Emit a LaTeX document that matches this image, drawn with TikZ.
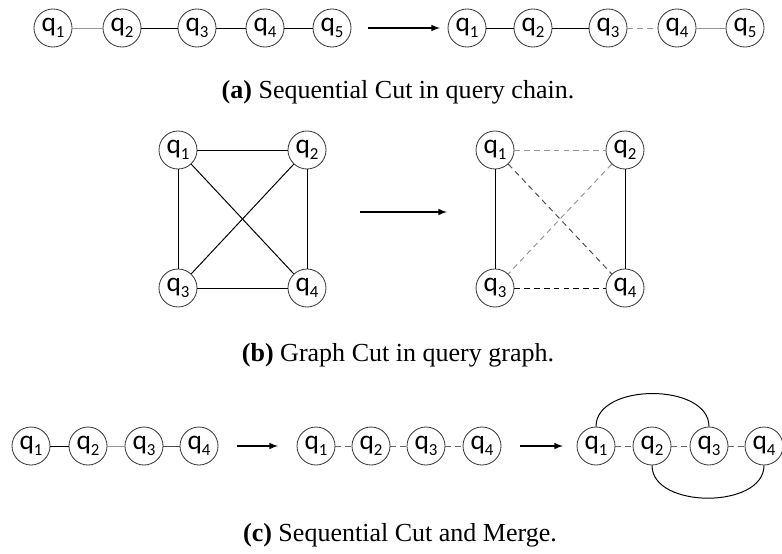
\documentclass[tikz,border=0pt]{standalone}
\usepackage{fontspec}
\usepackage{xcolor}
\setmainfont{Liberation Serif}
\newfontfamily\qfont{Carlito}
\definecolor{edgegray}{RGB}{150,150,150}
\definecolor{ringgray}{RGB}{60,60,60}
\newcommand{\qn}[1]{{\qfont\fontsize{19.5}{19.5}\selectfont q\raisebox{-3.8pt}{\fontsize{12}{12}\selectfont #1}}}
\tikzset{
  qnode/.style={ellipse, draw=ringgray, line width=0.6pt, fill=white, minimum width=0.95cm, minimum height=0.95cm, inner sep=0pt},
  hard/.style={line width=0.7pt, black},
  soft/.style={line width=0.7pt, edgegray},
  cut/.style={line width=0.7pt, edgegray, dash pattern=on 4pt off 3pt},
  stage/.style={-latex, line width=1.1pt},
  caption/.style={font=\fontsize{18.5}{18.5}\selectfont}
}
\usetikzlibrary{shapes.geometric}
\begin{document}
\begin{tikzpicture}[x=0.025cm, y=-0.025cm]
  \useasboundingbox (0,0) rectangle (782,553);

  % (a) query chain, before and after
  \foreach \n/\x in {1/53, 2/122, 3/197, 4/265, 5/332}
    \node[qnode] (aL\n) at (\x,28) {\qn{\n}};
  \foreach \n/\x in {1/467, 2/533, 3/608, 4/677, 5/745}
    \node[qnode] (aR\n) at (\x,28) {\qn{\n}};
  \draw[soft] (aL1) -- (aL2);
  \draw[hard] (aL2) -- (aL3);
  \draw[hard] (aL3) -- (aL4);
  \draw[hard] (aL4) -- (aL5);
  \draw[hard] (aR1) -- (aR2);
  \draw[hard] (aR2) -- (aR3);
  \draw[cut] (aR3) -- (aR4);
  \draw[soft] (aR4) -- (aR5);
  \coordinate (aFrom) at (368,28);
  \coordinate (aTo) at (440,28);
  \draw[stage] (aFrom) -- (aTo);
  \node[caption] (capA) at (398,92) {\textbf{(a)} Sequential Cut in query chain.};

  % (b) query graph, before and after
  \node[qnode] (gL1) at (178,150) {\qn{1}};
  \node[qnode] (gL2) at (307,150) {\qn{2}};
  \node[qnode] (gL3) at (178,288) {\qn{3}};
  \node[qnode] (gL4) at (307,288) {\qn{4}};
  \node[qnode] (gR1) at (495,150) {\qn{1}};
  \node[qnode] (gR2) at (625,150) {\qn{2}};
  \node[qnode] (gR3) at (495,288) {\qn{3}};
  \node[qnode] (gR4) at (625,288) {\qn{4}};
  \draw[hard] (gL1) -- (gL2);
  \draw[hard] (gL1) -- (gL3);
  \draw[hard] (gL1) -- (gL4);
  \draw[hard] (gL2) -- (gL3);
  \draw[hard] (gL2) -- (gL4);
  \draw[hard] (gL3) -- (gL4);
  \draw[cut] (gR1) -- (gR2);
  \draw[hard] (gR1) -- (gR3);
  \draw[cut, black!70] (gR1) -- (gR4);
  \draw[cut] (gR2) -- (gR3);
  \draw[hard] (gR2) -- (gR4);
  \draw[cut, black] (gR3) -- (gR4);
  \coordinate (bFrom) at (360,212);
  \coordinate (bTo) at (447,212);
  \draw[stage] (bFrom) -- (bTo);
  \node[caption] (capB) at (398,355) {\textbf{(b)} Graph Cut in query graph.};

  % (c) cut, then merge
  \foreach \n/\x in {1/31, 2/88, 3/144, 4/199}
    \node[qnode] (sA\n) at (\x,446) {\qn{\n}};
  \foreach \n/\x in {1/316, 2/371, 3/426, 4/482}
    \node[qnode] (sB\n) at (\x,446) {\qn{\n}};
  \foreach \n/\x in {1/596, 2/652, 3/709, 4/764}
    \node[qnode] (sC\n) at (\x,446) {\qn{\n}};
  \draw[hard] (sA1) -- (sA2);
  \draw[soft] (sA2) -- (sA3);
  \draw[hard, black!70] (sA3) -- (sA4);
  \foreach \a/\b in {1/2, 2/3, 3/4} {
    \draw[cut, black!60] (sB\a) -- (sB\b);
    \draw[cut, black!60] (sC\a) -- (sC\b);
  }
  \draw[hard] (sC1.north) to[out=90, in=90] (sC3.north);
  \draw[hard] (sC2.south) to[out=-90, in=-90] (sC4.south);
  \coordinate (cFrom1) at (237,446);
  \coordinate (cTo1) at (278,446);
  \coordinate (cFrom2) at (520,446);
  \coordinate (cTo2) at (563,446);
  \draw[stage] (cFrom1) -- (cTo1);
  \draw[stage] (cFrom2) -- (cTo2);
  \node[caption] (capC) at (400,535) {\textbf{(c)} Sequential Cut and Merge.};
\end{tikzpicture}
\end{document}
